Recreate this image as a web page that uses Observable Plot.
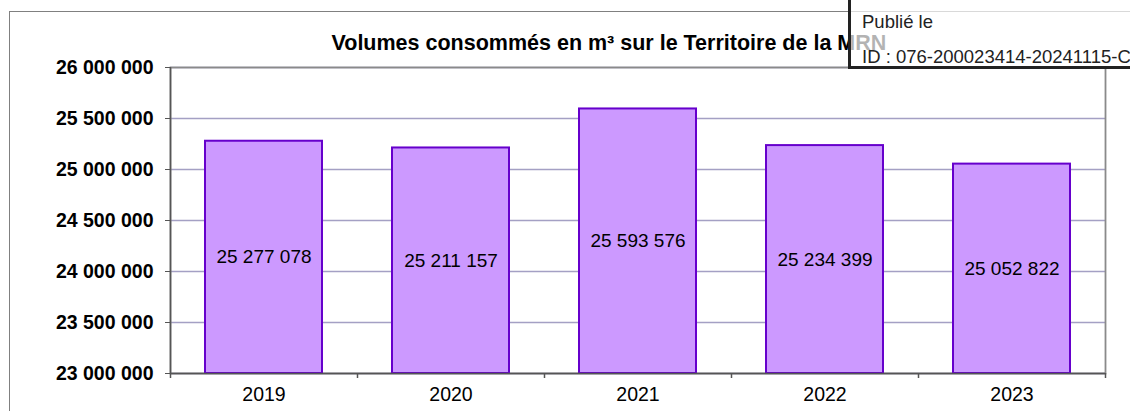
<!DOCTYPE html>
<html>
<head>
<meta charset="utf-8">
<script src="https://cdn.jsdelivr.net/npm/d3@7"></script>
<script src="https://cdn.jsdelivr.net/npm/@observablehq/plot@0.6"></script>
<style>
  html, body { margin: 0; padding: 0; background: #fff; }
  #wrap { position: relative; width: 1130px; height: 411px; overflow: hidden; font-family: "Liberation Sans", Arial, sans-serif; }
  #border { position: absolute; left: 9px; top: 11px; width: 1200px; height: 500px; border-left: 1.5px solid #808080; border-top: 1.5px solid #808080; box-sizing: border-box; }
  #chart { position: absolute; left: 0; top: 0; }
  #stamp { position: absolute; left: 848px; top: -6px; width: 320px; height: 75px; box-sizing: border-box; border: 3px solid #222; background: rgba(255,255,255,0.7); }
  #stamp .l1 { position: absolute; left: 11px; top: 14px; font-size: 18.5px; color: #222; white-space: nowrap; }
  #stamp .l2 { position: absolute; left: 11px; top: 49px; font-size: 18.5px; color: #222; white-space: nowrap; }
</style>
</head>
<body>
<div id="wrap">
  <div id="border"></div>
  <div id="chart"></div>
  <div id="stamp"><div class="l1">Publié le</div><div class="l2">ID : 076-200023414-20241115-C</div></div>
</div>
<script>
const years = ["2019", "2020", "2021", "2022", "2023"];
const volumes = [25277078, 25211157, 25593576, 25234399, 25052822];
const yTicks = [23000000, 23500000, 24000000, 24500000, 25000000, 25500000, 26000000];
const yMin = 23000000, yMax = 26000000;
const titleText = "Volumes consommés en m³ sur le Territoire de la MRN";

const data = years.map((y, i) => ({year: y, value: volumes[i]}));
const fmt = d => d3.format(",")(d).replace(/,/g, " ");

const W = 1130, H = 411, mL = 170, mR = 25, mT = 67, mB = 38;
const step = (W - mL - mR) / years.length;

const plot = Plot.plot({
  width: W, height: H,
  marginLeft: mL, marginRight: mR, marginTop: mT, marginBottom: mB,
  style: {fontFamily: "'Liberation Sans', Arial, sans-serif", background: "transparent", overflow: "visible"},
  x: {domain: years, paddingInner: 0.374, paddingOuter: 0.187},
  y: {domain: [yMin, yMax]},
  marks: [
    Plot.gridY(yTicks, {stroke: "#a4a0c4", strokeOpacity: 1, strokeWidth: 1.3}),
    Plot.frame({stroke: "#8a8a8a", strokeWidth: 1.8}),
    Plot.barY(data, {x: "year", y1: yMin, y2: "value", fill: "#cc99ff", stroke: "#6600cc", strokeWidth: 2}),
    Plot.ruleY([yMin], {stroke: "#555", strokeWidth: 1.5}),
    Plot.ruleX([years[0]], {dx: -step / 2, y1: yMin, y2: yMax, stroke: "#555", strokeWidth: 1.5}),
    Plot.ruleX(years, {dx: -step / 2, y1: yMin, y2: yMin, insetBottom: -5, stroke: "#555", strokeWidth: 1.5}),
    Plot.ruleX([years[years.length - 1]], {dx: step / 2, y1: yMin, y2: yMin, insetBottom: -5, stroke: "#555", strokeWidth: 1.5}),
    Plot.axisY(yTicks, {tickFormat: fmt, tickSize: 5, tickPadding: 12, fontSize: 19.5, fontWeight: "bold", fill: "#000", stroke: "#555", label: null}),
    Plot.axisX({tickSize: 0, tickPadding: 14, fontSize: 19.5, fill: "#000", label: null}),
    Plot.text(data, {x: "year", y: d => (yMin + d.value) / 2, text: d => fmt(d.value), fontSize: 19, fill: "#000"}),
    Plot.text([titleText], {frameAnchor: "top-left", dx: 331 - mL, dy: -33, textAnchor: "start", fontSize: 21.5, fontWeight: "bold", fill: "#000"})
  ]
});
document.getElementById("chart").appendChild(plot);
</script>
</body>
</html>
